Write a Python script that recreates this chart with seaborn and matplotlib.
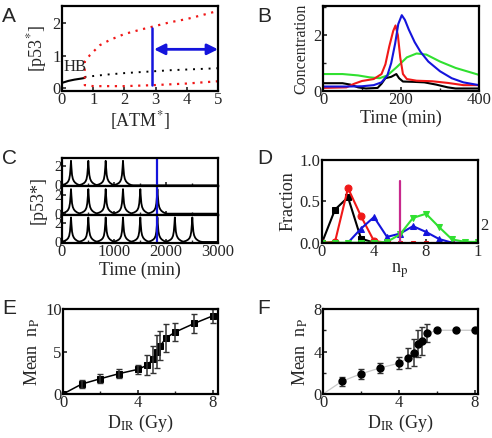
import numpy as np
import matplotlib
matplotlib.use('Agg')
import matplotlib.pyplot as plt
from matplotlib.ticker import MultipleLocator
import seaborn as sns

# ---- panel A: bifurcation diagram ----
a_stable_x = [0, 0.2, 0.4, 0.6, 0.72]
a_stable_y = [0.17, 0.23, 0.27, 0.30, 0.32]
a_unstable_x = [0.72, 1, 1.5, 2, 2.5, 3, 3.5, 4, 4.5, 5]
a_unstable_y = [0.35, 0.38, 0.43, 0.47, 0.50, 0.53, 0.56, 0.58, 0.60, 0.62]
a_orbit_x = [5, 4, 2.92, 2, 1, 0.73, 0.73, 0.73, 0.9, 1.22, 1.54, 2, 2.5, 2.92, 3.46, 4, 4.53, 5]
a_orbit_y = [0.22, 0.15, 0.1, 0.07, 0.07, 0.1, 0.45, 0.82, 1.03, 1.33, 1.49, 1.67, 1.8, 1.9, 2.03, 2.13, 2.26, 2.38]

# ---- panel B: one pulse ----
b_black_t = [0, 50, 70, 90, 110, 140, 150, 160, 175, 188, 195, 205, 230, 260, 290, 320, 340, 400]
b_black_v = [0.27, 0.27, 0.22, 0.12, 0.08, 0.1, 0.25, 0.45, 0.5, 0.6, 0.45, 0.33, 0.32, 0.3, 0.22, 0.12, 0.08, 0.08]
b_red_t = [0, 60, 80, 100, 130, 150, 160, 170, 180, 186, 192, 198, 205, 215, 240, 280, 320, 360, 400]
b_red_v = [0.1, 0.12, 0.25, 0.35, 0.42, 0.6, 0.95, 1.6, 2.15, 2.35, 2.0, 1.2, 0.6, 0.42, 0.36, 0.34, 0.28, 0.2, 0.2]
b_blue_t = [0, 60, 100, 130, 150, 165, 175, 185, 193, 202, 210, 220, 235, 250, 270, 300, 330, 360, 400]
b_blue_v = [0.15, 0.15, 0.16, 0.2, 0.3, 0.55, 1.0, 1.7, 2.4, 2.72, 2.55, 2.2, 1.75, 1.4, 1.05, 0.7, 0.45, 0.3, 0.2]
b_green_t = [0, 50, 90, 120, 145, 165, 190, 215, 240, 265, 300, 340, 400]
b_green_v = [0.6, 0.6, 0.55, 0.48, 0.45, 0.55, 0.86, 1.2, 1.34, 1.3, 1.05, 0.82, 0.57]

# ---- panel C: pulse trains ----
pulse_offset = [-160, -120, -80, -55, -35, -20, -8, 0, 8, 20, 35, 55, 80, 120, 160]
pulse_shape = [0.05, 0.12, 0.25, 0.4, 0.65, 1.1, 1.9, 2.6, 1.9, 1.1, 0.7, 0.45, 0.28, 0.12, 0.03]
c_pulses = [
    [173, 506, 840, 1173],
    [173, 506, 840, 1173, 1506, 1835],
    [173, 506, 840, 1173, 1506, 1835, 2170, 2506],
]
c_cut = 1830

# ---- panel D: pulse number distributions ----
d_n = list(range(13))
d_black = [0, 0.4, 0.55, 0.05, 0.0]
d_red = [0, 0.01, 0.66, 0.32, 0.02, 0.0, 0.0, 0.0, 0.0, 0.0, 0.0]
d_blue = [None, None, 0, 0.17, 0.31, 0.07, 0.11, 0.2, 0.13, 0.045, 0.0, 0.0, 0.0]
d_green = [0, 0, 0, 0, 0, 0.01, 0.1, 0.3, 0.35, 0.19, 0.04, 0.01, 0.01]
d_threshold = 6

# ---- panels E, F: mean pulse number vs dose ----
dose = [0, 1, 2, 3, 4, 4.5, 4.8, 5, 5.2, 5.5, 6, 7, 8]
e_mean = [0, 1.17, 1.8, 2.4, 2.9, 3.4, 4.1, 5.0, 5.7, 6.6, 7.3, 8.3, 9.2]
e_err = [0, 0.43, 0.5, 0.5, 0.5, 1.2, 1.6, 1.9, 1.7, 1.6, 1.05, 1.1, 0.85]
f_mean = [0, 1.2, 1.9, 2.45, 2.9, 3.4, 3.9, 4.75, 5.0, 5.7, 6.0, 6.0, 6.0]
f_err = [0, 0.4, 0.5, 0.45, 0.55, 0.95, 1.3, 1.25, 1.3, 0.85, 0.15, 0, 0]

sns.set_theme(style='ticks')
plt.rcParams['font.family'] = ['Liberation Serif', 'DejaVu Serif']
plt.rcParams['mathtext.fontset'] = 'stix'
plt.rcParams['axes.linewidth'] = 1.6
plt.rcParams['font.size'] = 12

RED = '#f01818'
BLUE = '#1414dc'
GREEN = '#30e030'
W, H = 492, 438


def place(left, top, right, bottom):
    return [left / W, 1 - bottom / H, (right - left) / W, (bottom - top) / H]


def style(ax, fs=12):
    ax.tick_params(direction='in', length=3, width=1.2, labelsize=fs, pad=1)
    ax.tick_params(which='minor', direction='in', length=2, width=1.0)
    for s in ax.spines.values():
        s.set_visible(True)
        s.set_color('black')


def letter(fig, x, y, s):
    fig.text(x / W, 1 - y / H, s, fontsize=15, family='Liberation Sans', va='center', ha='left')


fig = plt.figure(figsize=(4.92, 4.38), dpi=100)

# A
ax = fig.add_axes(place(62, 6, 218, 90.7))
sns.lineplot(x=a_stable_x, y=a_stable_y, ax=ax, color='black', lw=1.5, sort=False, estimator=None)
sns.lineplot(x=a_unstable_x, y=a_unstable_y, ax=ax, color='black', lw=1.4, ls=(0, (1, 3)), sort=False, estimator=None)
sns.lineplot(x=a_orbit_x, y=a_orbit_y, ax=ax, color=RED, lw=1.6, ls=(0, (1, 2.5)), sort=False, estimator=None)
ax.plot([2.9, 2.9], [0.1, 1.87], color=BLUE, lw=1.8)
ax.annotate('', xy=(5.0, 1.2), xytext=(2.95, 1.2),
            arrowprops=dict(arrowstyle='<|-|>', color=BLUE, lw=2, mutation_scale=16, shrinkA=0, shrinkB=0),
            annotation_clip=False)
ax.text(0.05, 0.42, 'HB', fontsize=12, ha='left', va='bottom')
ax.set_xlim(0, 5)
ax.set_ylim(-0.07, 2.53)
ax.set_xticks([0, 1, 2, 3, 4, 5])
ax.set_yticks([0, 1, 2])
ax.set_xlabel('[ATM$^{*}$]', fontsize=13, labelpad=1)
ax.set_ylabel('[p53$^{*}$]', fontsize=13, labelpad=2)
style(ax)
letter(fig, 2, 16, 'A')

# B
ax = fig.add_axes(place(323, 6, 479, 90.7))
for t, v, c in [(b_black_t, b_black_v, 'black'), (b_green_t, b_green_v, GREEN),
                (b_red_t, b_red_v, RED), (b_blue_t, b_blue_v, BLUE)]:
    sns.lineplot(x=t, y=v, ax=ax, color=c, lw=1.5, sort=False, estimator=None)
ax.set_xlim(0, 400)
ax.set_ylim(0, 3.05)
ax.set_xticks([0, 200, 400])
ax.set_yticks([0, 2])
ax.yaxis.set_minor_locator(MultipleLocator(1))
ax.xaxis.set_minor_locator(MultipleLocator(100))
ax.set_xlabel('Time (min)', fontsize=13, labelpad=1)
ax.set_ylabel('Concentration', fontsize=11.5, labelpad=3)
style(ax)
letter(fig, 257, 16, 'B')

# C
tops = [158, 186.3, 214.6]
for i, pulses in enumerate(c_pulses):
    ax = fig.add_axes(place(62, tops[i], 218, tops[i] + 28.3))
    tx, ty = [0.0], [0.1]
    for p in pulses:
        tx += [p + o for o in pulse_offset]
        ty += pulse_shape
    tx += [pulses[-1] + 200, 3000]
    ty += [0.0, 0.0]
    sns.lineplot(x=tx, y=ty, ax=ax, color='black', lw=1.3, sort=False, estimator=None)
    ax.axvline(c_cut, color=BLUE, lw=1.6)
    ax.set_xlim(0, 3000)
    ax.set_ylim(-0.1, 2.9)
    ax.set_yticks([0, 2])
    ax.set_xticks([0, 1000, 2000, 3000])
    ax.xaxis.set_minor_locator(MultipleLocator(500))
    style(ax)
    ax.tick_params(axis='y', pad=0, labelsize=10.5)
    if i < 2:
        ax.set_xticklabels([])
    else:
        ax.set_xlabel('Time (min)', fontsize=13, labelpad=1)
    if i == 1:
        ax.set_ylabel('[p53*]', fontsize=13, labelpad=6)
letter(fig, 2, 158, 'C')

# D
ax = fig.add_axes(place(322, 160, 478, 242.7))
sns.lineplot(x=d_n[:len(d_black)], y=d_black, ax=ax, color='black', lw=1.5, marker='s', ms=4.5, mec='black', sort=False, estimator=None)
sns.lineplot(x=d_n[:6], y=d_red[:6], ax=ax, color=RED, lw=1.5, marker='o', ms=5, mec=RED, sort=False, estimator=None)
sns.lineplot(x=d_n[5:len(d_red)], y=d_red[5:], ax=ax, color=RED, lw=1.5, ls='--', marker='s', ms=3, mec=RED, sort=False, estimator=None)
bx = [n for n, v in zip(d_n, d_blue) if v is not None]
by = [v for v in d_blue if v is not None]
sns.lineplot(x=bx, y=by, ax=ax, color=BLUE, lw=1.5, marker='^', ms=5, mec=BLUE, sort=False, estimator=None)
sns.lineplot(x=d_n, y=d_green, ax=ax, color=GREEN, lw=1.5, marker='v', ms=5, mec=GREEN, sort=False, estimator=None)
ax.plot([d_threshold, d_threshold], [0, 0.75], color='#c8288c', lw=1.6)
ax.set_xlim(0, 12)
ax.set_ylim(0, 1.0)
ax.set_xticks([0, 4, 8, 12])
ax.set_xticklabels(['0', '4', '8', '1'])
ax.xaxis.set_minor_locator(MultipleLocator(2))
ax.set_yticks([0, 0.5, 1.0])
ax.set_yticklabels(['0.0', '0.5', '1.0'])
ax.set_xlabel('n$_{\\rm p}$', fontsize=13, labelpad=1)
ax.set_ylabel('Fraction', fontsize=13, labelpad=2)
ax.text(12.15, 0.2, '2', fontsize=12, ha='left', va='center', clip_on=False)
style(ax)
letter(fig, 257, 158, 'D')

# E
ax = fig.add_axes(place(63, 309, 218, 394))
sns.lineplot(x=dose, y=e_mean, ax=ax, color='black', lw=1.1, marker='s', ms=4.5, mec='black', sort=False, estimator=None)
ax.errorbar(dose[1:], e_mean[1:], yerr=e_err[1:], fmt='none', ecolor='#333333', elinewidth=1.1, capsize=2.5)
ax.set_xlim(0, 8.27)
ax.set_ylim(0, 10)
ax.set_xticks([0, 4, 8])
ax.set_yticks([0, 5, 10])
ax.xaxis.set_minor_locator(MultipleLocator(2))
ax.set_xlabel('D$_{\\rm IR}$ (Gy)', fontsize=13, labelpad=1)
ax.set_ylabel('Mean  n$_{\\rm P}$', fontsize=13, labelpad=2)
style(ax)
letter(fig, 2, 309, 'E')

# F
ax = fig.add_axes(place(323, 309, 478, 394))
sns.lineplot(x=dose, y=f_mean, ax=ax, color='#c8c8c8', lw=0.9, sort=False, estimator=None)
ax.errorbar(dose[1:], f_mean[1:], yerr=f_err[1:], fmt='o', color='black', ms=5, ecolor='#333333', elinewidth=1.1, capsize=2.5)
ax.set_xlim(0, 8.16)
ax.set_ylim(0, 8)
ax.set_xticks([0, 4, 8])
ax.set_yticks([0, 4, 8])
ax.xaxis.set_minor_locator(MultipleLocator(2))
ax.yaxis.set_minor_locator(MultipleLocator(2))
ax.set_xlabel('D$_{\\rm IR}$ (Gy)', fontsize=13, labelpad=1)
ax.set_ylabel('Mean  n$_{\\rm P}$', fontsize=13, labelpad=2)
style(ax)
letter(fig, 257, 309, 'F')

fig.savefig('out.png', dpi=100)
